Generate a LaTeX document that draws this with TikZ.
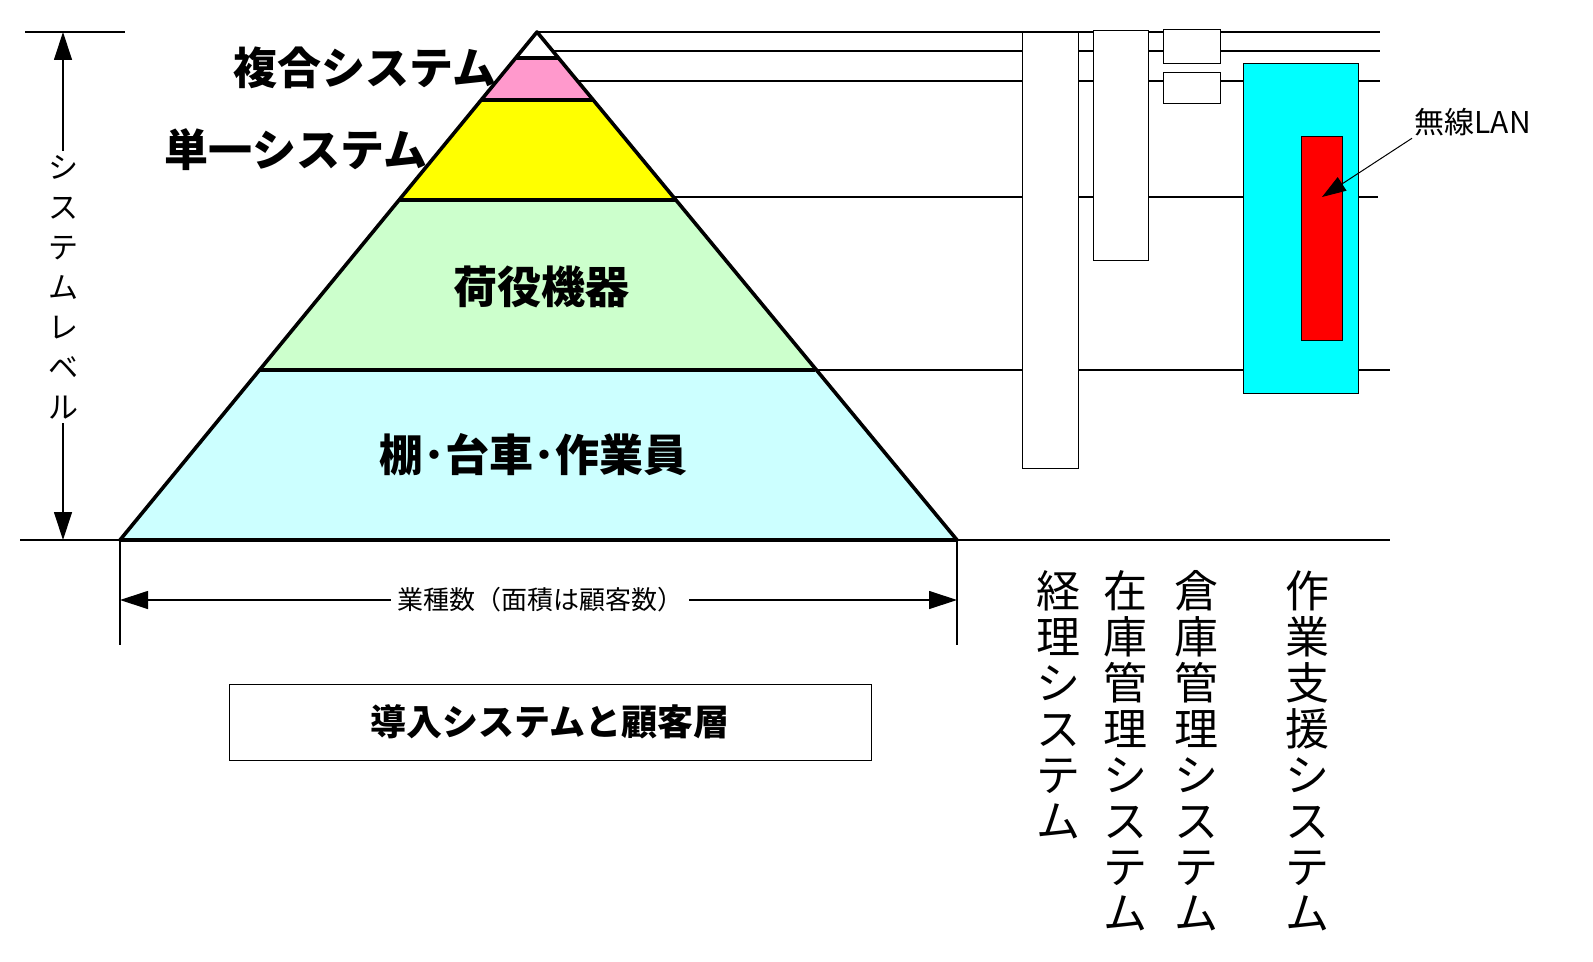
\documentclass[tikz,border=0pt]{standalone}
\usepackage{fontspec}
\setmainfont{Noto Sans CJK JP}
\newfontfamily\jpbold{Noto Sans CJK JP Black}
\usetikzlibrary{arrows.meta}
\definecolor{tipPink}{RGB}{255,153,204}
\definecolor{layerYellow}{RGB}{255,255,0}
\definecolor{layerGreen}{RGB}{204,255,204}
\definecolor{layerCyan}{RGB}{204,255,255}
\definecolor{boxCyan}{RGB}{0,255,255}
\definecolor{boxRed}{RGB}{255,0,0}
\tikzset{
  layer/.style={draw=black,line width=1.8pt,line join=round},
  rule/.style={draw=black,line width=0.6pt},
  sysbox/.style={draw=black,fill=white,line width=0.5pt},
  big/.style={font=\jpbold\fontsize{22}{22}\selectfont,inner sep=0pt},
  vtext/.style={font=\fontsize{22}{23}\selectfont,align=center,inner sep=0pt,anchor=north},
  dim/.style={line width=0.6pt,{Triangle[length=14pt,width=9pt]}-{Triangle[length=14pt,width=9pt]}}
}
\begin{document}
\begin{tikzpicture}[x=0.5pt,y=-0.5pt]
\useasboundingbox (0,0) rectangle (1593,962);
% horizontal rules
\draw[rule] (25,32) -- (125,32);
\draw[rule] (537,32) -- (1380,32);
\draw[rule] (548,51) -- (1380,51);
\draw[rule] (561,81) -- (1380,81);
\draw[rule] (675,197) -- (1378,197);
\draw[rule] (815,370) -- (1390,370);
\draw[rule] (20,540) -- (1390,540);
% pyramid
\fill[white] (537,32) -- (515.7,58) -- (558.3,58) -- cycle;
\fill[tipPink] (515.7,58) -- (481.2,100) -- (592.8,100) -- (558.3,58) -- cycle;
\fill[layerYellow] (481.2,100) -- (399,200) -- (675,200) -- (592.8,100) -- cycle;
\fill[layerGreen] (399,200) -- (259.5,370) -- (814.5,370) -- (675,200) -- cycle;
\fill[layerCyan] (259.5,370) -- (120,540) -- (957,540) -- (814.5,370) -- cycle;
\draw[layer] (537,32) -- (120,540) -- (957,540) -- cycle;
\foreach \y/\xa/\xb in {58/515.7/558.3,100/481.2/592.8,200/399/675,370/259.5/814.5}
  \draw[layer] (\xa,\y) -- (\xb,\y);
\node[big,anchor=east] (multi) at (497,68) {複合システム};
\node[big,anchor=east] (single) at (428,150) {単一システム};
\node[big] (handling) at (541,287) {荷役機器};
\node[big] (shelf) at (533,455) {棚･台車･作業員};
% system boxes
\draw[sysbox] (1022,33) rectangle (1078,468);
\draw[sysbox] (1093,31) rectangle (1148,261);
\draw[sysbox] (1163,30) rectangle (1220,64);
\draw[sysbox] (1163,73) rectangle (1220,104);
\draw[sysbox,fill=boxCyan] (1243,64) rectangle (1358,393);
\draw[sysbox,fill=boxRed] (1301,137) rectangle (1342,340);
\coordinate (lanpt) at (1322,197);
\node[font=\fontsize{15}{15}\selectfont,anchor=west,inner sep=1pt] (lan) at (1412,122) {無線LAN};
\draw[line width=0.5pt,-{Triangle[length=12pt,width=8pt]}] (lan.south west) -- (lanpt);
% left level arrow
\coordinate (lvtop) at (63,32);
\coordinate (lvbot) at (63,540);
\draw[dim] (lvtop) -- (lvbot);
\node[font=\fontsize{15}{20}\selectfont,align=center,fill=white,inner sep=2pt] (level) at (63,287) {シ\\ス\\テ\\ム\\レ\\ベ\\ル};
% width arrow
\draw[rule] (120,540) -- (120,645);
\draw[rule] (957,540) -- (957,645);
\coordinate (wl) at (120,600);
\coordinate (wr) at (957,600);
\draw[dim] (wl) -- (wr);
\node[font=\fontsize{13}{13}\selectfont,fill=white,inner sep=3pt] (count) at (540,600) {業種数（面積は顧客数）};
% caption
\node[draw=black,line width=0.5pt,minimum width=321pt,minimum height=38pt,font=\jpbold\fontsize{18}{18}\selectfont] (title) at (550,722) {導入システムと顧客層};
% vertical system names
\node[vtext] (acc) at (1058,570) {経\\理\\シ\\ス\\テ\\ム};
\node[vtext] (inv) at (1125,570) {在\\庫\\管\\理\\シ\\ス\\テ\\ム};
\node[vtext] (wms) at (1196,570) {倉\\庫\\管\\理\\シ\\ス\\テ\\ム};
\node[vtext] (work) at (1307,570) {作\\業\\支\\援\\シ\\ス\\テ\\ム};
\end{tikzpicture}
\end{document}
